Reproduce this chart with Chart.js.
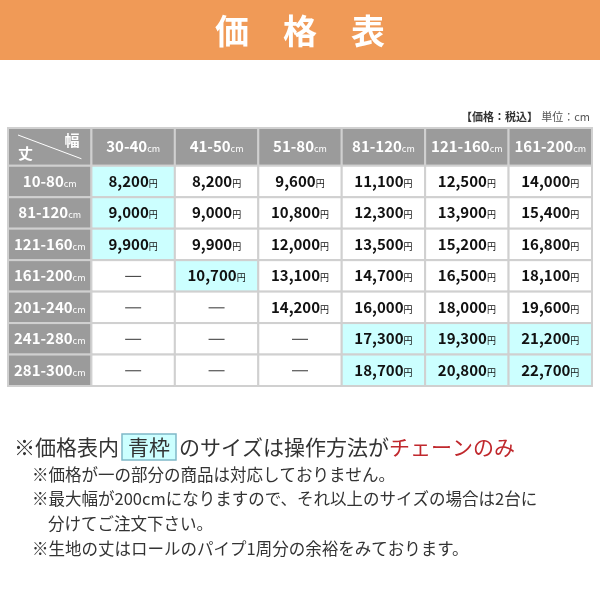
<!DOCTYPE html>
<html><head><meta charset="utf-8">
<script src="https://cdn.jsdelivr.net/npm/chart.js@4/dist/chart.umd.min.js"></script>
<style>html,body{margin:0;background:#fff}#wrap{width:600px;height:600px}</style>
</head><body><div id="wrap"><canvas id="c"></canvas></div>
<script>
// 幅 (columns) / 丈 (rows)
var widths = ['30-40', '41-50', '51-80', '81-120', '121-160', '161-200']
var heights = ['10-80', '81-120', '121-160', '161-200', '201-240', '241-280', '281-300']
var row1 = [8200, 8200, 9600, 11100, 12500, 14000]
var row2 = [9000, 9000, 10800, 12300, 13900, 15400]
var row3 = [9900, 9900, 12000, 13500, 15200, 16800]
var row4 = [null, 10700, 13100, 14700, 16500, 18100]
var row5 = [null, null, 14200, 16000, 18000, 19600]
var row6 = [null, null, null, 17300, 19300, 21200]
var row7 = [null, null, null, 18700, 20800, 22700]
var prices = [row1, row2, row3, row4, row5, row6, row7]
// chain-only cells [row, col]
var chainOnly = [[0,0],[1,0],[2,0],[3,1],[5,3],[5,4],[5,5],[6,3],[6,4],[6,5]]

var JP = '"Noto Sans CJK JP", sans-serif'
var GRAY = '#9b9b9b', LINE = '#d0d0d0', CYAN = '#ccffff'

function isChain(r, c) {
    return chainOnly.some(function (p) { return p[0] === r && p[1] === c })
}

function numWithUnit(ctx, num, unit, cx, cy, color, big, small) {
    ctx.font = 'bold ' + big + 'px ' + JP
    var w1 = ctx.measureText(num).width
    ctx.font = small + 'px ' + JP
    var w2 = ctx.measureText(unit).width
    var x0 = cx - (w1 + w2) / 2
    ctx.fillStyle = color
    ctx.textAlign = 'left'
    ctx.textBaseline = 'alphabetic'
    ctx.font = 'bold ' + big + 'px ' + JP
    ctx.fillText(num, x0, cy + big * 0.36)
    ctx.font = small + 'px ' + JP
    ctx.fillText(unit, x0 + w1, cy + big * 0.36)
}

var tablePlugin = {
    id: 'table',
    beforeDraw: function (chart) {
        var ctx = chart.ctx, xs = chart.scales.x, ys = chart.scales.y
        ctx.save()
        // banner
        ctx.fillStyle = '#f09a57'
        ctx.fillRect(0, 0, 600, 60)
        ctx.fillStyle = '#fff'
        ctx.font = 'bold 34px ' + JP
        ctx.textAlign = 'center'
        ctx.textBaseline = 'middle'
        ctx.fillText('価　格　表', 300, 31)
        ctx.fillStyle = '#333'
        ctx.font = 'bold 11px ' + JP
        ctx.textAlign = 'right'
        ctx.fillText('【価格：税込】', 538, 117)
        ctx.font = '11px ' + JP
        ctx.fillStyle = '#555'
        ctx.fillText('単位：cm', 590, 117)

        function cell(c, r, fill) {
            var x1 = xs.getPixelForValue(c), x2 = xs.getPixelForValue(c + 1)
            var y1 = ys.getPixelForValue(r === -1 ? -1.2 : r), y2 = ys.getPixelForValue(r + 1)
            ctx.fillStyle = fill
            ctx.fillRect(x1, y1, x2 - x1, y2 - y1)
            ctx.strokeStyle = LINE
            ctx.lineWidth = 2
            ctx.strokeRect(x1, y1, x2 - x1, y2 - y1)
            return { x1: x1, x2: x2, y1: y1, y2: y2, cx: (x1 + x2) / 2, cy: (y1 + y2) / 2 }
        }
        // corner
        var k = cell(0, -1, GRAY)
        ctx.strokeStyle = '#fff'; ctx.lineWidth = 1
        ctx.beginPath(); ctx.moveTo(k.x1 + 10, k.y1 + 7); ctx.lineTo(k.x2 - 10, k.y2 - 7); ctx.stroke()
        ctx.fillStyle = '#fff'; ctx.font = 'bold 15px ' + JP; ctx.textBaseline = 'middle'
        ctx.textAlign = 'left'; ctx.fillText('丈', k.x1 + 10, k.y2 - 12)
        ctx.textAlign = 'right'; ctx.fillText('幅', k.x2 - 12, k.y1 + 12)
        widths.forEach(function (w, i) {
            var b = cell(i + 1, -1, GRAY)
            numWithUnit(ctx, w, 'cm', b.cx, b.cy, '#fff', 15, 9)
        })
        heights.forEach(function (h, r) {
            var b = cell(0, r, GRAY)
            numWithUnit(ctx, h, 'cm', b.cx, b.cy, '#fff', 15, 9)
            prices[r].forEach(function (v, c) {
                var p = cell(c + 1, r, isChain(r, c) ? CYAN : '#fff')
                if (v === null) {
                    ctx.strokeStyle = '#333'; ctx.lineWidth = 1
                    ctx.beginPath(); ctx.moveTo(p.cx - 8, p.cy + 0.5); ctx.lineTo(p.cx + 8, p.cy + 0.5); ctx.stroke()
                } else {
                    numWithUnit(ctx, v.toLocaleString('en-US'), '円', p.cx, p.cy, '#111', 15, 9)
                }
            })
        })

        // notes
        ctx.textAlign = 'left'; ctx.textBaseline = 'middle'
        ctx.font = '21px ' + JP; ctx.fillStyle = '#333'
        var x = 14, y = 447
        ctx.fillText('※価格表内', x, y); x += ctx.measureText('※価格表内').width + 3
        var bw = ctx.measureText('青枠').width + 12
        ctx.fillStyle = CYAN; ctx.fillRect(x, y - 13, bw, 26)
        ctx.strokeStyle = '#7fb8c8'; ctx.lineWidth = 1.5; ctx.strokeRect(x, y - 13, bw, 26)
        ctx.fillStyle = '#333'; ctx.fillText('青枠', x + 6, y); x += bw + 3
        ctx.fillText('のサイズは操作方法が', x, y); x += ctx.measureText('のサイズは操作方法が').width
        ctx.fillStyle = '#c0282d'; ctx.fillText('チェーンのみ', x, y)
        ctx.fillStyle = '#333'; ctx.font = '16.5px ' + JP
        ctx.fillText('※価格が一の部分の商品は対応しておりません。', 32, 475)
        ctx.fillText('※最大幅が200cmになりますので、それ以上のサイズの場合は2台に', 32, 499)
        ctx.fillText('分けてご注文下さい。', 48, 524)
        ctx.fillText('※生地の丈はロールのパイプ1周分の余裕をみております。', 32, 549)
        ctx.restore()
    }
}

new Chart(document.getElementById('c'), {
    type: 'scatter',
    data: { datasets: [{ data: [] }] },
    options: {
        responsive: true, maintainAspectRatio: false, animation: false, events: [],
        layout: { padding: { left: 8, right: 8, top: 128, bottom: 214 } },
        plugins: { legend: { display: false }, tooltip: { enabled: false } },
        scales: {
            x: { type: 'linear', min: 0, max: widths.length + 1, display: false },
            y: { type: 'linear', min: -1.2, max: heights.length, reverse: true, display: false }
        }
    },
    plugins: [tablePlugin]
})
</script></body></html>
